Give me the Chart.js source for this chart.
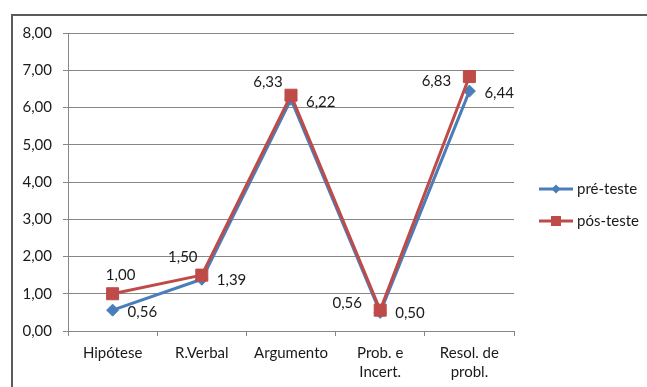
<!DOCTYPE html>
<html>
<head>
<meta charset="utf-8">
<script src="https://cdn.jsdelivr.net/npm/chart.js@4/dist/chart.umd.min.js"></script>
<style>
  html, body { margin: 0; padding: 0; background: #fff; overflow: hidden; }
  #wrap { width: 647px; height: 387px; position: relative; }
</style>
</head>
<body>
<div id="wrap"><canvas id="c" width="647" height="387"></canvas></div>
<script>
// Categories (multi-line labels) and the two test series
const categories = [['Hipótese'], ['R.Verbal'], ['Argumento'], ['Prob. e', 'Incert.'], ['Resol. de', 'probl.']];
const seriesNames = ['pré-teste', 'pós-teste'];
const preTeste = [0.56, 1.39, 6.22, 0.50, 6.44];
const posTeste = [1.00, 1.50, 6.33, 0.56, 6.83];
const yTickMin = 0;
const yTickMax = 8;
const yTickStep = 1;

const FONT = 'Lato, "Open Sans", sans-serif';
const BLUE = '#4A7EBB';
const RED = '#BE4B48';
const GRID = '#878787';

const fmt = v => Number(v).toFixed(2).replace('.', ',');

// Placement of each value label relative to its point
const labelPlacement = {
  0: { align: 'left', offsets: [[15, 2], [15, 1], [15, 3], [15, 1], [15, 2]] },
  1: { align: 'center', offsets: [[8, -19], [-19, -18], [-23, -13], [-33, -7], [-33, 5]] }
};

// Outer frame around the chart
const framePlugin = {
  id: 'frame',
  beforeDraw(chart) {
    const ctx = chart.ctx;
    ctx.save();
    ctx.strokeStyle = '#5b5b5b';
    ctx.lineWidth = 2;
    ctx.strokeRect(12, 15, 700, 420);
    ctx.restore();
  }
};

// Value labels next to every point
const valueLabelPlugin = {
  id: 'valueLabels',
  afterDatasetsDraw(chart) {
    const ctx = chart.ctx;
    ctx.save();
    ctx.font = '15px ' + FONT;
    ctx.fillStyle = '#1a1a1a';
    ctx.textBaseline = 'middle';
    chart.data.datasets.forEach((ds, di) => {
      const meta = chart.getDatasetMeta(di);
      const place = labelPlacement[di];
      ctx.textAlign = place.align;
      meta.data.forEach((pt, i) => {
        const [dx, dy] = place.offsets[i];
        ctx.fillText(fmt(ds.data[i]), pt.x + dx, pt.y + dy);
      });
    });
    ctx.restore();
  }
};

// Legend on the right: line segment with marker, then series name
const sideLegendPlugin = {
  id: 'sideLegend',
  afterDraw(chart) {
    const ctx = chart.ctx;
    const x0 = 539, x1 = 573, tx = 577;
    const rows = [189, 221];
    ctx.save();
    chart.data.datasets.forEach((ds, di) => {
      const y = rows[di];
      ctx.strokeStyle = ds.borderColor;
      ctx.lineWidth = 3;
      ctx.beginPath();
      ctx.moveTo(x0, y);
      ctx.lineTo(x1, y);
      ctx.stroke();
      const cx = (x0 + x1) / 2;
      ctx.fillStyle = ds.borderColor;
      ctx.beginPath();
      if (ds.pointStyle === 'rectRot') {
        const r = 4.5;
        ctx.moveTo(cx - r, y); ctx.lineTo(cx, y - r); ctx.lineTo(cx + r, y); ctx.lineTo(cx, y + r);
        ctx.closePath();
      } else {
        ctx.rect(cx - 5, y - 5, 10, 10);
      }
      ctx.fill();
      ctx.fillStyle = '#1a1a1a';
      ctx.font = '15px ' + FONT;
      ctx.textAlign = 'left';
      ctx.textBaseline = 'middle';
      ctx.fillText(ds.label, tx, y);
    });
    ctx.restore();
  }
};

new Chart(document.getElementById('c'), {
  type: 'line',
  data: {
    labels: categories,
    datasets: [
      {
        label: seriesNames[0],
        data: preTeste,
        borderColor: BLUE,
        backgroundColor: BLUE,
        borderWidth: 3,
        pointStyle: 'rectRot',
        pointRadius: 6,
        pointBorderWidth: 1,
        pointBackgroundColor: BLUE,
        pointBorderColor: BLUE,
        borderJoinStyle: 'round',
        borderCapStyle: 'round',
        tension: 0,
        order: 1
      },
      {
        label: seriesNames[1],
        data: posTeste,
        borderColor: RED,
        backgroundColor: RED,
        borderWidth: 3,
        pointStyle: 'rect',
        pointRadius: 8.5,
        pointBorderWidth: 1,
        pointBackgroundColor: RED,
        pointBorderColor: RED,
        borderJoinStyle: 'round',
        borderCapStyle: 'round',
        tension: 0,
        order: 0
      }
    ]
  },
  options: {
    responsive: false,
    animation: false,
    events: [],
    devicePixelRatio: 1,
    layout: { padding: { top: 33, right: 133, bottom: 0, left: 0 } },
    plugins: {
      legend: { display: false },
      tooltip: { enabled: false }
    },
    scales: {
      x: {
        type: 'category',
        offset: true,
        afterFit(scale) { scale.height = 56; },
        grid: {
          offset: true,
          drawOnChartArea: false,
          drawTicks: true,
          tickLength: 5,
          color: GRID,
          lineWidth: 1
        },
        border: { display: true, color: GRID, width: 1 },
        ticks: {
          color: '#1a1a1a',
          font: { family: FONT, size: 15, lineHeight: '19px' },
          padding: 8,
          maxRotation: 0,
          autoSkip: false
        }
      },
      y: {
        min: yTickMin,
        max: yTickMax,
        afterFit(scale) { scale.width = 68; },
        grid: {
          color: GRID,
          lineWidth: 1,
          drawTicks: true,
          tickLength: 5
        },
        border: { display: true, color: GRID, width: 1 },
        ticks: {
          stepSize: yTickStep,
          color: '#1a1a1a',
          font: { family: FONT, size: 15 },
          padding: 11,
          callback: v => fmt(v)
        }
      }
    }
  },
  plugins: [framePlugin, valueLabelPlugin, sideLegendPlugin]
});
</script>
</body>
</html>
